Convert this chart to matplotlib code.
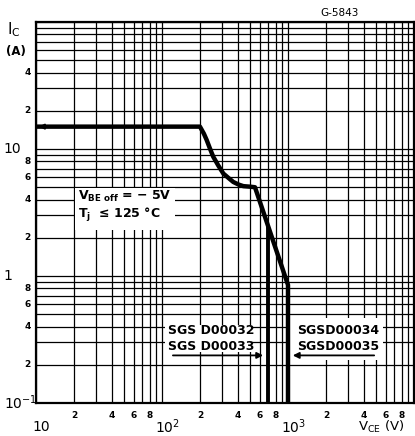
import matplotlib
matplotlib.use("Agg")
import matplotlib.pyplot as plt
from matplotlib.patches import Rectangle
from matplotlib.ticker import LogLocator, NullFormatter

plt.rcParams['font.family'] = ['DejaVu Sans']
plt.rcParams['mathtext.fontset'] = 'dejavusans'

# safe operating area, VBE off = -5 V
vce = [10, 200, 215, 226, 240, 255, 280, 307, 338, 368, 405, 442, 500, 547, 1000, 1000]
ic = [15, 15, 13.2, 11.8, 10.1, 8.7, 7.4, 6.4, 5.9, 5.5, 5.25, 5.1, 5.05, 5.0, 0.85, 0.1]

# lower voltage types cut off at 700 V
vce_700 = [700, 700]
ic_700 = [2.4, 0.1]

x_minor = [2, 4, 6, 8]
x_decades = [10, 100, 1000]
x_decade_labels = ['10', '$10^2$', '$10^3$']
y_decades = [0.1, 1, 10]
y_decade_labels = ['$10^{-1}$', '1', '10']

fig = plt.figure(figsize=(4.15, 4.36), dpi=100)
ax = fig.add_axes([36/415, 1-403/436, 378/415, 381/436])
ax.set_xscale('log')
ax.set_yscale('log')
ax.set_xlim(10, 1e4)
ax.set_ylim(0.1, 100)

for a in (ax.xaxis, ax.yaxis):
    a.set_major_locator(LogLocator(base=10))
    a.set_minor_locator(LogLocator(base=10, subs=range(1, 10)))
    a.set_major_formatter(NullFormatter())
    a.set_minor_formatter(NullFormatter())
ax.tick_params(which='both', length=0)
ax.grid(which='both', color='black', lw=0.9)
ax.set_axisbelow(True)
for s in ax.spines.values():
    s.set_linewidth(1.6)

ax.plot(vce, ic, color='black', lw=3.2, solid_joinstyle='round', zorder=5)
ax.plot(vce_700, ic_700, color='black', lw=2.8, zorder=5)

# arrow on the left end of the 15 A line
ax.annotate('', xy=(10, 15), xytext=(11.5, 15),
            arrowprops=dict(arrowstyle='-|>', color='black', lw=1.2,
                            mutation_scale=8), zorder=6)

# label boxes hiding the grid
ax.add_patch(Rectangle((20.4, 2.3), 127-20.4, 4.93-2.3, facecolor='white',
                       edgecolor='none', zorder=3))
ax.add_patch(Rectangle((106, 0.252), 517-106, 0.411-0.252, facecolor='white',
                       edgecolor='none', zorder=3))
ax.add_patch(Rectangle((1037, 0.218), 5680-1037, 0.467-0.218, facecolor='white',
                       edgecolor='none', zorder=3))

ax.text(21.5, 4.2, r'V$_{\mathbf{BE\ off}}$ = − 5V', fontsize=9,
        fontweight='bold', va='center', ha='left', zorder=4)
ax.text(21.5, 3.0, r'T$_{\mathbf{j}}$  ≤ 125 °C', fontsize=9,
        fontweight='bold', va='center', ha='left', zorder=4)

ax.text(112, 0.369, 'SGS D00032', fontsize=9, fontweight='bold',
        va='center', ha='left', zorder=4)
ax.text(112, 0.281, 'SGS D00033', fontsize=9, fontweight='bold',
        va='center', ha='left', zorder=4)
ax.text(1178, 0.369, 'SGSD00034', fontsize=9, fontweight='bold',
        va='center', ha='left', zorder=4)
ax.text(1178, 0.281, 'SGSD00035', fontsize=9, fontweight='bold',
        va='center', ha='left', zorder=4)

ax.annotate('', xy=(668, 0.237), xytext=(116, 0.237),
            arrowprops=dict(arrowstyle='-|>', color='black', lw=1.3,
                            mutation_scale=9), zorder=6)
ax.annotate('', xy=(1037, 0.237), xytext=(5080, 0.237),
            arrowprops=dict(arrowstyle='-|>', color='black', lw=1.3,
                            mutation_scale=9), zorder=6)

# tick labels
xt = ax.get_xaxis_transform()
for d in x_decades:
    for m in x_minor:
        ax.text(d*m, -0.032, str(m), transform=xt, fontsize=6.5,
                fontweight='bold', ha='center', va='center', clip_on=False)
for d, lab in zip(x_decades, x_decade_labels):
    ax.text(d*1.1, -0.062, lab, transform=xt, fontsize=10,
            ha='center', va='center', clip_on=False)

yt = ax.get_yaxis_transform()
for d in y_decades:
    for m in x_minor:
        if d*m > 50:
            continue
        ax.text(-0.022, d*m, str(m), transform=yt, fontsize=6.5,
                fontweight='bold', ha='center', va='center', clip_on=False)
for d, lab in zip(y_decades, y_decade_labels):
    ax.text(-0.085, d, lab, transform=yt, fontsize=10,
            ha='left', va='center', clip_on=False)

fig.text(7/415, 1-30/436, r'I$_{\mathregular{C}}$', fontsize=11,
         ha='left', va='center')
fig.text(6/415, 1-52/436, '(A)', fontsize=8.5, fontweight='bold',
         ha='left', va='center')
fig.text(358/415, 1-427/436, r'V$_{\mathregular{CE}}$ (V)', fontsize=9.5,
         ha='left', va='center')
fig.text(340/415, 1-13/436, 'G-5843', fontsize=7.5, ha='center', va='center')

fig.savefig('out.png', dpi=100)
